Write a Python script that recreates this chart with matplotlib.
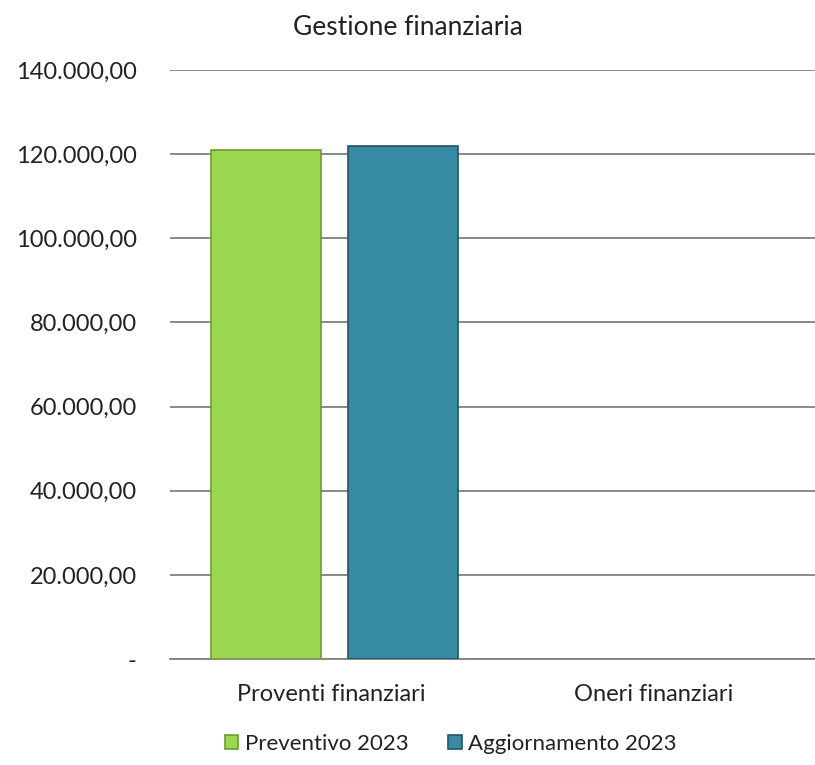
import numpy as np
import matplotlib.pyplot as plt
from matplotlib.ticker import FuncFormatter

categories = ['Proventi finanziari', 'Oneri finanziari']
preventivo_2023 = [121000, 0]
aggiornamento_2023 = [121900, 0]
y_ticks = [0, 20000, 40000, 60000, 80000, 100000, 120000, 140000]


def it_format(v, pos):
    if v == 0:
        return '-'
    s = '{:,.2f}'.format(v)
    return s.replace(',', 'X').replace('.', ',').replace('X', '.')


plt.rcParams['font.family'] = ['Lato', 'DejaVu Sans']

fig = plt.figure(figsize=(8.15, 7.65), dpi=100)
ax = fig.add_axes([170 / 815, 1 - 659 / 765, 645 / 815, 589 / 765])

x = np.arange(len(categories))
w = 0.34
ax.bar(x - 0.203, preventivo_2023, w, color='#9BD64F', edgecolor='#6E9A35',
       linewidth=[1.2 if v else 0 for v in preventivo_2023],
       label='Preventivo 2023', zorder=3)
ax.bar(x + 0.223, aggiornamento_2023, w, color='#368AA1', edgecolor='#1F5666',
       linewidth=[1.2 if v else 0 for v in aggiornamento_2023],
       label='Aggiornamento 2023', zorder=3)

ax.set_xlim(-0.5, 1.5)
ax.set_ylim(0, 140000)
ax.set_yticks(y_ticks)
ax.yaxis.set_major_formatter(FuncFormatter(it_format))
ax.set_xticks(x)
ax.set_xticklabels(categories)
ax.tick_params(axis='both', length=0, labelsize=17, colors='#222222')
ax.tick_params(axis='x', pad=18)
ax.tick_params(axis='y', pad=24)
ax.grid(axis='y', color='#808080', linewidth=1.3, zorder=0)
for side in ['left', 'right', 'top']:
    ax.spines[side].set_visible(False)
ax.spines['bottom'].set_color('#808080')
ax.spines['bottom'].set_linewidth(1.3)

fig.suptitle('Gestione finanziaria', y=0.98, fontsize=19, color='#222222')
fig.legend(loc='lower center', bbox_to_anchor=(0.553, -0.012), ncol=2, frameon=False,
           fontsize=16, handlelength=0.6, handleheight=0.6, handletextpad=0.3,
           columnspacing=1.8, labelcolor='#222222')

fig.savefig('out.png', dpi=100)
